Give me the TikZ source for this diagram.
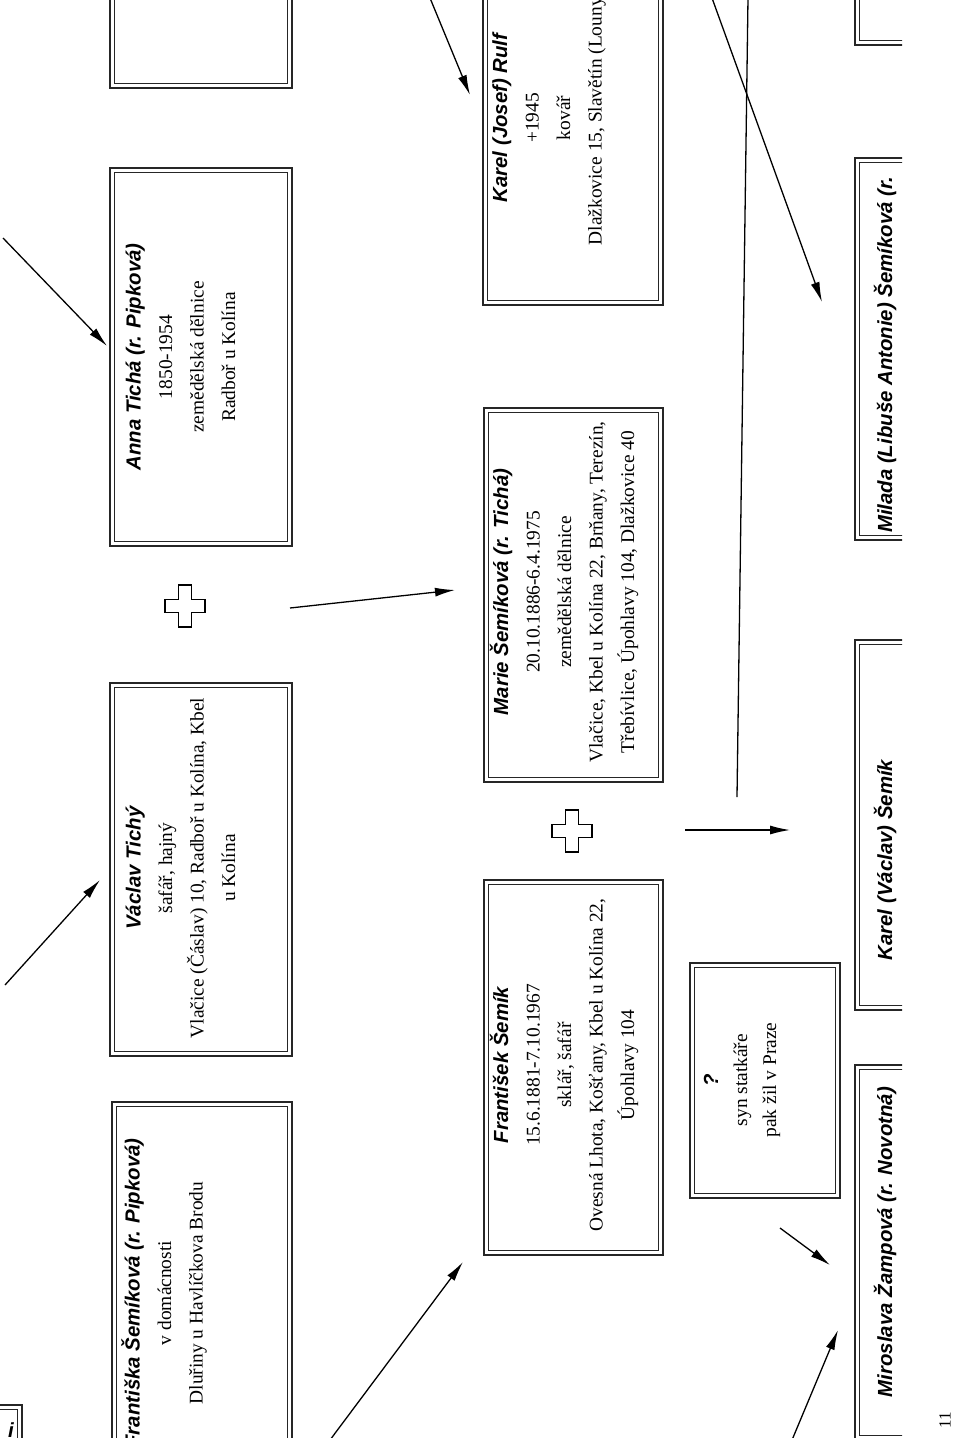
\documentclass[tikz,border=0pt]{standalone}
\usepackage{fontspec}
\setmainfont{Liberation Serif}
\newfontfamily\namefont{Liberation Sans}
\usetikzlibrary{arrows.meta}
\newcommand\pname[1]{{\namefont\bfseries\itshape\fontsize{20.4}{31.5}\selectfont #1}}
\newcommand\famrect[4]{%
  \draw[outerline] (#1,#2) rectangle (#3,#4);
  \draw[innerline] ([shift={(4.8,4.8)}]#1,#2) rectangle ([shift={(-4.8,-4.8)}]#3,#4);}
\newcommand\crossmark[2]{%
  \begin{scope}[shift={(#1,#2)}]
  \draw[crossline] (-6.5,-21) -- (6.5,-21) -- (6.5,-6.5) -- (20,-6.5) -- (20,6.5) -- (6.5,6.5) -- (6.5,21) -- (-6.5,21) -- (-6.5,6.5) -- (-20,6.5) -- (-20,-6.5) -- (-6.5,-6.5) -- cycle;
  \end{scope}}
\begin{document}
\begin{tikzpicture}[x=1pt,y=-1pt,
  outerline/.style={line width=2.6pt,draw=black!85},
  innerline/.style={line width=1.1pt,draw=black!85},
  person/.style={rotate=90,align=center,inner sep=0pt,font=\fontsize{19.4}{31.5}\selectfont},
  arr/.style={line width=1.3pt,-{Latex[length=20pt,width=9pt]}},
  plainline/.style={line width=1.3pt},
  crossline/.style={line width=1.4pt}]
\useasboundingbox (0,0) rectangle (960,1438);
\begin{scope}
\clip (0,0) rectangle (902,1438);
% row 1
\famrect{110}{-290}{292}{88}
\famrect{110}{168}{292}{546}
\famrect{110}{683}{292}{1056}
\famrect{112}{1102}{292}{1484}
% row 2
\famrect{483}{-70}{663}{305}
\famrect{484}{408}{663}{782}
\famrect{484}{880}{663}{1255}
\famrect{690}{963}{840}{1198}
\famrect{-160}{1405}{22}{1780}
% row 3
\famrect{855}{-330}{1035}{45}
\famrect{855}{158}{1035}{540}
\famrect{855}{640}{1035}{1010}
\famrect{855}{1065}{1035}{1440}
% crosses
\crossmark{185}{606}
\crossmark{572}{831}
% texts
\node[person] (anna) at (180.5,357) {\pname{Anna Tichá (r. Pipková)}\\1850-1954\\zemědělská dělnice\\Radboř u Kolína};
\node[person] (vaclav) at (180.5,868) {\pname{Václav Tichý}\\šafář, hajný\\Vlačice (Čáslav) 10, Radboř u Kolína, Kbel\\u Kolína};
\node[person] (frantiska) at (164,1293) {\pname{Františka Šemíková (r. Pipková)}\\v domácnosti\\Dluřiny u Havlíčkova Brodu};
\node[person] (rulf) at (549,118) {\pname{Karel (Josef) Rulf}\\+1945\\kovář\\Dlažkovice 15, Slavětín (Louny)};
\node[person] (marie) at (564,592) {\pname{Marie Šemíková (r. Tichá)}\\20.10.1886-6.4.1975\\zemědělská dělnice\\Vlačice, Kbel u Kolína 22, Brňany, Terezín,\\Třebívlice, Úpohlavy 104, Dlažkovice 40};
\node[person] (frantisek) at (564,1065) {\pname{František Šemík}\\15.6.1881-7.10.1967\\sklář, šafář\\Ovesná Lhota, Košťany, Kbel u Kolína 22,\\Úpohlavy 104};
\node[person,font=\fontsize{19.4}{29}\selectfont] (question) at (742,1080) {{\namefont\bfseries\itshape\fontsize{20.4}{29}\selectfont ?}\\syn statkáře\\pak žil v Praze};
\node[person] (milada) at (885,355) {\pname{Milada (Libuše Antonie) Šemíková (r.}};
\node[person] (karelv) at (885,860) {\pname{Karel (Václav) Šemík}};
\node[person] (miroslava) at (885,1242) {\pname{Miroslava Žampová (r. Novotná)}};
\node[inner sep=0pt] (frag) at (11,1430) {\pname{i}};
% connectors
\coordinate (a1s) at (3,238);   \coordinate (a1e) at (107,346);
\coordinate (a2s) at (5,985);   \coordinate (a2e) at (100,880);
\coordinate (a3s) at (330,1440); \coordinate (a3e) at (463,1262);
\coordinate (a4s) at (290,608); \coordinate (a4e) at (455,590);
\coordinate (a5s) at (430,-2);  \coordinate (a5e) at (470,95);
\coordinate (a6s) at (685,830); \coordinate (a6e) at (790,830);
\coordinate (a7s) at (748,-2);  \coordinate (a7e) at (737,797);
\coordinate (a8s) at (712,-2);  \coordinate (a8e) at (822,302);
\coordinate (a9s) at (780,1228); \coordinate (a9e) at (830,1265);
\coordinate (a10s) at (792,1440); \coordinate (a10e) at (838,1330);
\draw[arr] (a1s) -- (a1e);
\draw[arr] (a2s) -- (a2e);
\draw[arr] (a3s) -- (a3e);
\draw[arr] (a4s) -- (a4e);
\draw[arr] (a5s) -- (a5e);
\draw[arr] (a6s) -- (a6e);
\draw[plainline] (a7s) -- (a7e);
\draw[arr] (a8s) -- (a8e);
\draw[arr] (a9s) -- (a9e);
\draw[arr] (a10s) -- (a10e);
\end{scope}
\node[rotate=90,inner sep=0pt,font=\fontsize{17}{19}\selectfont] (pagenum) at (945,1420) {11};
\end{tikzpicture}
\end{document}
